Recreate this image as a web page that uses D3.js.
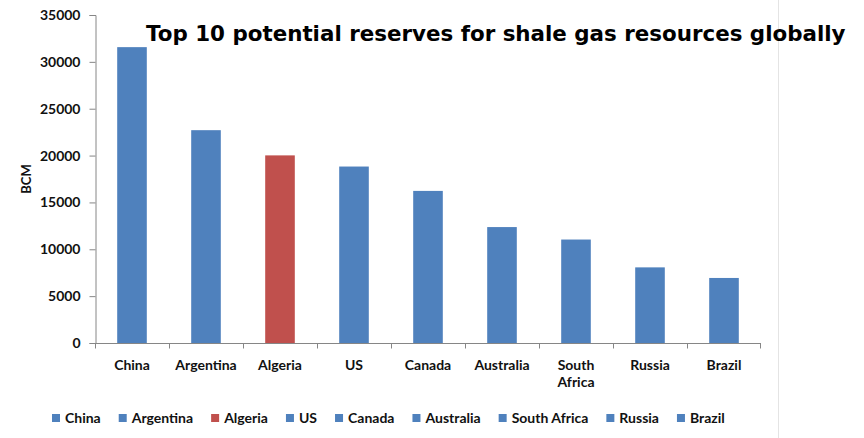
<!DOCTYPE html>
<html><head><meta charset="utf-8">
<script src="https://cdn.jsdelivr.net/npm/d3@7"></script>
<style>body{margin:0;background:#fff}svg{display:block}</style>
</head><body><svg id="c" width="864" height="438"></svg>
<script>
const categories = ["China","Argentina","Algeria","US","Canada","Australia","South Africa","Russia","Brazil"];
const values = [31570, 22710, 20020, 18830, 16230, 12370, 11040, 8070, 6940];
const barColors = ["#4F81BD","#4F81BD","#C0504D","#4F81BD","#4F81BD","#4F81BD","#4F81BD","#4F81BD","#4F81BD"];
const yTicks = [0,5000,10000,15000,20000,25000,30000,35000];
const titleText = "Top 10 potential reserves for shale gas resources globally";
const yLabel = "BCM";

const svg = d3.select("#c");
const m = {left:95, right:761, top:15, bottom:343};
const x = d3.scaleBand().domain(categories).range([m.left, m.right]).paddingInner(0.6).paddingOuter(0.3);
const xb = d3.scaleBand().domain(categories).range([m.left, m.right]);
const y = d3.scaleLinear().domain([0,35000]).range([m.bottom, m.top]);
const font = "Lato, 'Open Sans', sans-serif";
const txt = "#111";

// right border line
svg.append("line").attr("x1",778.5).attr("x2",778.5).attr("y1",0).attr("y2",438).attr("stroke","#e4e4e4");

// bars
svg.selectAll("rect.bar").data(categories).join("rect").attr("class","bar")
  .attr("x", d=>x(d)).attr("width", x.bandwidth())
  .attr("y", (d,i)=>y(values[i])).attr("height",(d,i)=>y(0)-y(values[i]))
  .attr("fill",(d,i)=>barColors[i]);

// y axis
const ya = svg.append("g").attr("transform",`translate(${m.left+0.5},0)`)
  .call(d3.axisLeft(y).tickValues(yTicks).tickSize(6).tickPadding(9).tickFormat(d3.format("d")));
ya.select(".domain").attr("stroke","#868686");
ya.selectAll(".tick line").attr("stroke","#868686");
ya.selectAll("text").attr("font-family",font).attr("font-weight","bold").attr("font-size","14px").attr("fill",txt);

// x axis
const xa = svg.append("g").attr("transform",`translate(0,${m.bottom+0.5})`);
xa.append("line").attr("x1",m.left).attr("x2",m.right).attr("stroke","#868686");
xa.selectAll("line.t").data(categories.concat(["_end"])).join("line").attr("class","t")
  .attr("x1",(d,i)=> i<categories.length ? xb(d)+0.5 : m.right-0.5)
  .attr("x2",(d,i)=> i<categories.length ? xb(d)+0.5 : m.right-0.5)
  .attr("y1",0).attr("y2",5).attr("stroke","#868686");
xa.selectAll("text").data(categories).join("text")
  .attr("x", d=>xb(d)+xb.bandwidth()/2).attr("y",26)
  .attr("text-anchor","middle").attr("font-family",font).attr("font-weight","bold").attr("font-size","14px").attr("fill",txt)
  .each(function(d){
    const t=d3.select(this);
    const parts = d==="South Africa" ? ["South","Africa"] : [d];
    parts.forEach((p,k)=>t.append("tspan").attr("x",xb(d)+xb.bandwidth()/2).attr("dy",k?17:0).text(p));
  });

// y label
svg.append("text").attr("transform","translate(31,179) rotate(-90)").attr("text-anchor","middle")
  .attr("font-family",font).attr("font-weight","bold").attr("font-size","13px").attr("fill",txt).text(yLabel);

// title
const title = svg.append("text").attr("x",146).attr("y",41).attr("font-family","'DejaVu Sans', Verdana, sans-serif")
  .attr("font-weight","bold").attr("font-size","18px").attr("fill","#000").text(titleText);
const tw = title.node().getComputedTextLength();
title.attr("font-size", (18*700/tw).toFixed(2)+"px");

// legend
const lg = svg.append("g");
let lx = 52;
categories.forEach((c,i)=>{
  lg.append("rect").attr("x",lx).attr("y",414).attr("width",8).attr("height",8).attr("fill",barColors[i]);
  const t = lg.append("text").attr("x",lx+13).attr("y",423).attr("font-family",font).attr("font-weight","bold")
    .attr("font-size","14px").attr("fill",txt).text(c);
  lx += 13 + t.node().getComputedTextLength() + 18;
});
</script></body></html>
